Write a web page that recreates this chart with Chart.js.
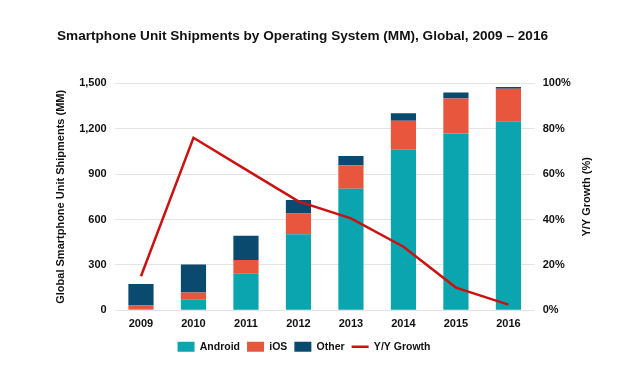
<!DOCTYPE html>
<html>
<head>
<meta charset="utf-8">
<script src="https://cdn.jsdelivr.net/npm/chart.js@4"></script>
<style>
    html, body { margin: 0; padding: 0; background: #fff; }
    #wrap { width: 640px; height: 370px; }
</style>
</head>
<body>
<div id="wrap"><canvas id="osChart"></canvas></div>
<script>
const years = ["2009", "2010", "2011", "2012", "2013", "2014", "2015", "2016"];
const android = [7, 69, 241, 503, 804, 1061, 1169, 1249];
const ios = [24, 48, 92, 136, 154, 192, 231, 215];
const other = [142, 185, 159, 90, 62, 50, 40, 11];
const growth = [15, 76, 62, 48, 40.5, 28, 10, 2.5];
const unitTicks = [0, 300, 600, 900, 1200, 1500];
const growthTicks = [0, 20, 40, 60, 80, 100];

const font = "'Liberation Sans', Arial, Helvetica, sans-serif";
Chart.defaults.font.family = font;
Chart.defaults.color = "#111";

// right axis title reads bottom-to-top like the left one,
// and the legend sits centred on the page rather than the padded area
const tweaks = {
    id: "tweaks",
    afterLayout(chart) {
        const l = chart.legend;
        const shift = (l.left + l.right) / 2 - 304;
        l.left -= shift;
        l.right -= shift;
    },
    afterDraw(chart) {
        const s = chart.scales.y1;
        const ctx = chart.ctx;
        ctx.save();
        ctx.translate(s.right - 13, (s.top + s.bottom) / 2);
        ctx.rotate(-Math.PI / 2);
        ctx.font = "bold 11px " + font;
        ctx.fillStyle = "#111";
        ctx.textAlign = "center";
        ctx.textBaseline = "middle";
        ctx.fillText("Y/Y Growth (%)", 0, 0);
        ctx.restore();
    }
};

const barOpts = { order: 1, stack: "units", yAxisID: "y", categoryPercentage: 1, barPercentage: 0.48 };

new Chart(document.getElementById("osChart"), {
    type: "bar",
    data: {
        labels: years,
        datasets: [
            { label: "Android", data: android, backgroundColor: "#0aa5ae", ...barOpts },
            { label: "iOS", data: ios, backgroundColor: "#e8563e", ...barOpts },
            { label: "Other", data: other, backgroundColor: "#0b4a6f", ...barOpts },
            {
                type: "line",
                label: "Y/Y Growth",
                data: growth,
                yAxisID: "y1",
                order: 0,
                borderColor: "#cc1111",
                backgroundColor: "#cc1111",
                borderWidth: 2.5,
                pointRadius: 0,
                tension: 0,
            },
        ],
    },
    options: {
        responsive: true,
        maintainAspectRatio: false,
        animation: false,
        layout: { padding: { left: 57, right: 40, top: 8, bottom: 8 } },
        plugins: {
            title: {
                display: true,
                align: "start",
                text: "Smartphone Unit Shipments by Operating System (MM), Global, 2009 – 2016",
                font: { size: 13.6, weight: "bold" },
                color: "#111",
                padding: { top: 20, bottom: 39 },
            },
            legend: {
                position: "bottom",
                labels: {
                    usePointStyle: true,
                    pointStyleWidth: 17,
                    boxHeight: 10,
                    padding: 7,
                    font: { size: 10.5, weight: "bold" },
                    sort: (a, b) => a.datasetIndex - b.datasetIndex,
                    generateLabels(chart) {
                        const items = Chart.defaults.plugins.legend.labels.generateLabels(chart);
                        items.forEach(function (it) {
                            it.pointStyle = it.datasetIndex === 3 ? "line" : "rect";
                            if (it.datasetIndex !== 3) it.lineWidth = 0;
                        });
                        return items;
                    },
                },
            },
            tooltip: { enabled: false },
        },
        scales: {
            x: {
                stacked: true,
                grid: { display: false },
                border: { display: false },
                ticks: { font: { size: 11, weight: "bold" }, padding: -1 },
                afterFit: (scale) => { scale.height += 5; },
            },
            y: {
                stacked: true,
                min: 0,
                max: 1500,
                afterBuildTicks: (axis) => { axis.ticks = unitTicks.map(v => ({ value: v })); },
                ticks: {
                    font: { size: 11, weight: "bold" },
                    padding: 8,
                    callback: (v) => v.toLocaleString("en-US"),
                },
                grid: { color: "#e4e4e4", drawTicks: true, tickLength: 0 },
                border: { display: false },
                title: {
                    display: true,
                    text: "Global Smartphone Unit Shipments (MM)",
                    font: { size: 11, weight: "bold" },
                    padding: { top: -3, bottom: 4 },
                },
            },
            y1: {
                position: "right",
                min: 0,
                max: 100,
                afterBuildTicks: (axis) => { axis.ticks = growthTicks.map(v => ({ value: v })); },
                ticks: {
                    font: { size: 11, weight: "bold" },
                    padding: 8,
                    callback: (v) => v + "%",
                },
                grid: { display: false, drawTicks: false },
                border: { display: false },
                title: {
                    display: true,
                    text: "Y/Y Growth (%)",
                    color: "transparent",
                    font: { size: 11, weight: "bold" },
                    padding: { top: 4, bottom: 4 },
                },
            },
        },
    },
    plugins: [tweaks],
});
</script>
</body>
</html>
